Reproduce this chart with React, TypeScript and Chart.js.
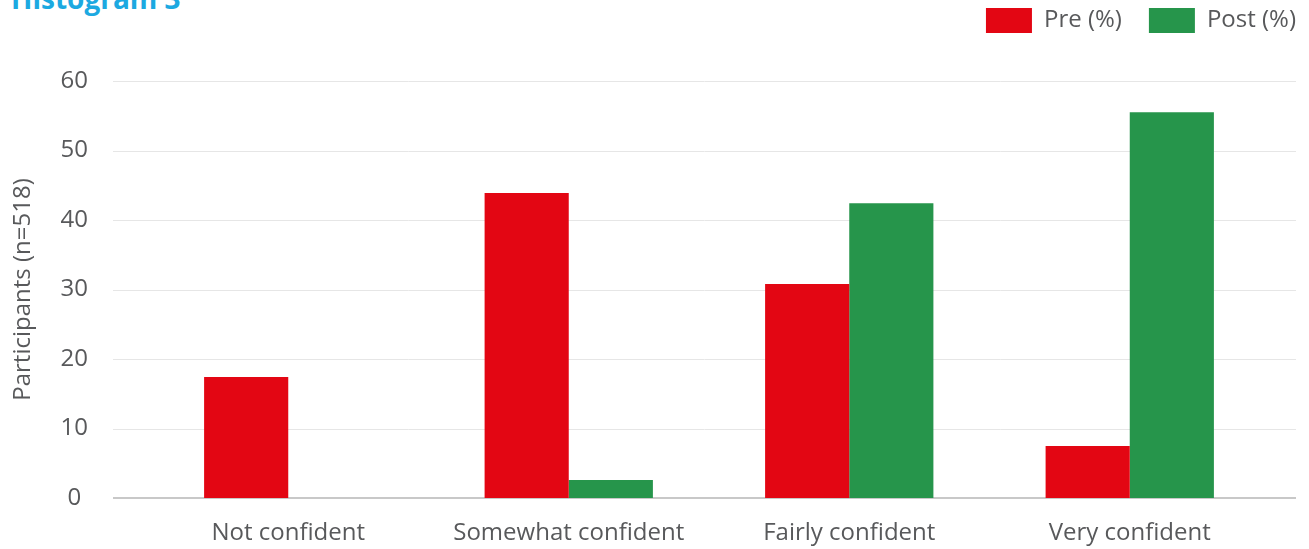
import React, { useEffect, useRef } from "react";
import { Chart, registerables } from "chart.js";

Chart.register(...registerables);

const categories = ["Not confident", "Somewhat confident", "Fairly confident", "Very confident"];
const preValues = [17.4, 43.9, 30.8, 7.5];
const postValues = [0, 2.6, 42.4, 55.5];
const yTicks = [0, 10, 20, 30, 40, 50, 60];
const seriesLabels = ["Pre (%)", "Post (%)"];
const yTitle = "Participants (n=518)";
const chartTitle = "Histogram 3";

const RED = "#e30613";
const GREEN = "#26954b";
const TEXT = "#58595b";
const FONT = "'Open Sans', sans-serif";
const LEGEND_PAD = 27;

const gridPlugin = {
  id: "extGrid",
  afterLayout(chart: any) {
    const lg = chart.legend;
    if (lg) {
      lg.top = 8 - LEGEND_PAD;
      lg.right = 1296 + LEGEND_PAD;
    }
  },
  beforeDatasetsDraw(chart: any) {
    const ctx = chart.ctx;
    const y = chart.scales.y;
    const left = chart.chartArea.left - 35;
    const right = chart.chartArea.right + 26;
    ctx.save();
    y.ticks.forEach((t: any) => {
      const py = Math.round(y.getPixelForValue(t.value));
      ctx.beginPath();
      if (t.value === 0) {
        ctx.strokeStyle = "#c8c8c8";
        ctx.lineWidth = 2;
        ctx.moveTo(left, py);
        ctx.lineTo(right, py);
      } else {
        ctx.strokeStyle = "#e6e6e6";
        ctx.lineWidth = 1;
        ctx.moveTo(left, py + 0.5);
        ctx.lineTo(right, py + 0.5);
      }
      ctx.stroke();
    });
    ctx.restore();
  },
};

export default function App() {
  const ref = useRef<HTMLCanvasElement>(null);
  useEffect(() => {
    if (!ref.current) return;
    const chart = new Chart(ref.current, {
      type: "bar",
      data: {
        labels: categories,
        datasets: [
          { label: seriesLabels[0], data: preValues, backgroundColor: RED, borderWidth: 0 },
          { label: seriesLabels[1], data: postValues, backgroundColor: GREEN, borderWidth: 0 },
        ],
      },
      options: {
        animation: false,
        responsive: false,
        maintainAspectRatio: false,
        layout: { padding: { left: 0, right: 39, top: 19, bottom: 0 } },
        datasets: { bar: { categoryPercentage: 0.6, barPercentage: 1.0 } },
        scales: {
          x: {
            grid: { display: false, drawTicks: false },
            border: { display: false },
            ticks: { color: TEXT, font: { family: FONT, size: 24 }, padding: 21, maxRotation: 0, autoSkip: false },
            afterFit: (s: any) => { s.height = 51; s.paddingLeft = 0; s.paddingRight = 0; },
          },
          y: {
            min: 0,
            max: 60,
            afterBuildTicks: (s: any) => { s.ticks = yTicks.map((v) => ({ value: v })); },
            grid: { display: false, drawTicks: false },
            border: { display: false },
            ticks: { color: TEXT, font: { family: FONT, size: 24 }, padding: 60, crossAlign: "center" },
            title: { display: true, text: yTitle, color: TEXT, font: { family: FONT, size: 24 }, padding: { top: 9, bottom: 0 } },
            afterFit: (s: any) => { s.width = 148; s.paddingTop = 0; s.paddingBottom = 0; },
          },
        },
        plugins: {
          legend: {
            position: "top",
            align: "end",
            labels: { boxWidth: 46, boxHeight: 25, color: TEXT, font: { family: FONT, size: 24 }, padding: LEGEND_PAD },
          },
          tooltip: { enabled: false },
          title: { display: false },
        },
      },
      plugins: [gridPlugin],
    });
    return () => chart.destroy();
  }, []);
  return (
    <div style={{ position: "fixed", left: 0, top: 0, width: 1309, height: 549, background: "#fff", overflow: "hidden" }}>
      <div style={{ position: "absolute", left: 11, top: -16, fontFamily: FONT, fontWeight: 700, fontSize: 28, lineHeight: "28px", color: "#1ca9e1" }}>{chartTitle}</div>
      <canvas ref={ref} width={1309} height={549} style={{ position: "absolute", left: 0, top: 0 }} />
    </div>
  );
}
